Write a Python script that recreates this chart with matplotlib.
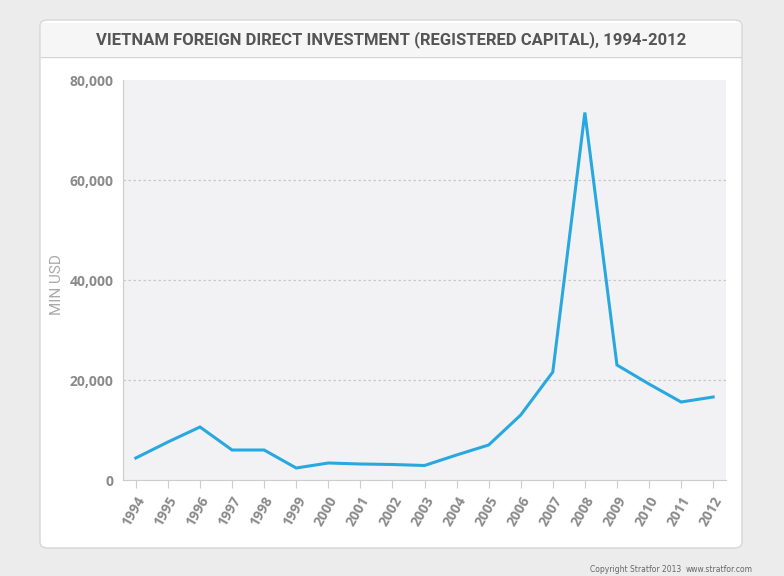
import matplotlib
matplotlib.use("Agg")
import matplotlib.pyplot as plt
from matplotlib.patches import FancyBboxPatch, Rectangle
from matplotlib.ticker import FuncFormatter
import numpy as np

years = [1994, 1995, 1996, 1997, 1998, 1999, 2000, 2001, 2002, 2003,
         2004, 2005, 2006, 2007, 2008, 2009, 2010, 2011, 2012]
fdi = [4400, 7600, 10600, 6000, 6000, 2400, 3400, 3200, 3100, 2900,
       5000, 7000, 13000, 21600, 73500, 23000, 19200, 15600, 16600]
yticks = [0, 20000, 40000, 60000, 80000]
title = "VIETNAM FOREIGN DIRECT INVESTMENT (REGISTERED CAPITAL), 1994-2012"

W, H = 784, 576
fig = plt.figure(figsize=(W/100, H/100), dpi=100)
fig.patch.set_facecolor("#ececec")

# card
card = FancyBboxPatch((40/W, 1-548/H), 702/W, 528/H,
                      boxstyle="round,pad=0,rounding_size=0.01",
                      transform=fig.transFigure, facecolor="white",
                      edgecolor="#d6d6d6", linewidth=1, zorder=-2)
fig.patches.append(card)
# header band
hdr = Rectangle((41/W, 1-57/H), 700/W, 34/H, transform=fig.transFigure,
                facecolor="#f6f6f6", edgecolor="none", zorder=-1)
fig.patches.append(hdr)
fig.add_artist(plt.Line2D([41/W, 741/W], [1-57/H, 1-57/H], color="#d4d4d4",
                          lw=1, transform=fig.transFigure, zorder=-1))

fig.text(391/W, 1-40/H, title, ha="center", va="center", fontsize=12,
         color="#555555", family=["Roboto", "DejaVu Sans"],
         fontweight="bold", zorder=3)

ax = fig.add_axes([123/W, 1-480/H, 603/W, 400/H], zorder=2)
ax.set_facecolor("#f2f2f4")
ax.plot(years, fdi, color="#29a8e0", lw=2.2, solid_joinstyle="miter", zorder=3)
ax.set_xlim(1993.6, 2012.4)
ax.set_ylim(0, 80000)
ax.set_yticks(yticks)
ax.yaxis.set_major_formatter(FuncFormatter(lambda v, p: f"{int(v):,}"))
ax.set_xticks(years)
ax.set_xticklabels([str(y) for y in years], rotation=60, ha="right",
                   rotation_mode="anchor")
for s in ["top", "right"]:
    ax.spines[s].set_visible(False)
ax.spines["left"].set_color("#cccccc")
ax.spines["bottom"].set_color("#cccccc")
ax.tick_params(axis="y", length=0, pad=7, labelsize=10, labelcolor="#8a8a8a")
ax.tick_params(axis="x", length=6, color="#cccccc", pad=4, labelsize=10,
               labelcolor="#8a8a8a")
for lab in ax.get_yticklabels() + ax.get_xticklabels():
    lab.set_fontweight("bold")
    lab.set_family(["Open Sans", "DejaVu Sans"])
for v in yticks[1:-1]:
    ax.axhline(v, color="#c8c8c8", lw=0.9, ls=(0, (2, 2)), zorder=0.5)
fig.text(57/W, 1-285/H, "MIN USD", rotation=90, ha="center", va="center",
         color="#aaaaaa", fontsize=11, family=["Roboto", "DejaVu Sans"])

fig.text(681/W, 1-570/H, "Copyright Stratfor 2013", ha="right", va="center",
         fontsize=5.5, color="#666666")
fig.text(753/W, 1-570/H, "www.stratfor.com", ha="right", va="center",
         fontsize=5.5, color="#666666")

fig.savefig("out.png", dpi=100, facecolor=fig.get_facecolor())
